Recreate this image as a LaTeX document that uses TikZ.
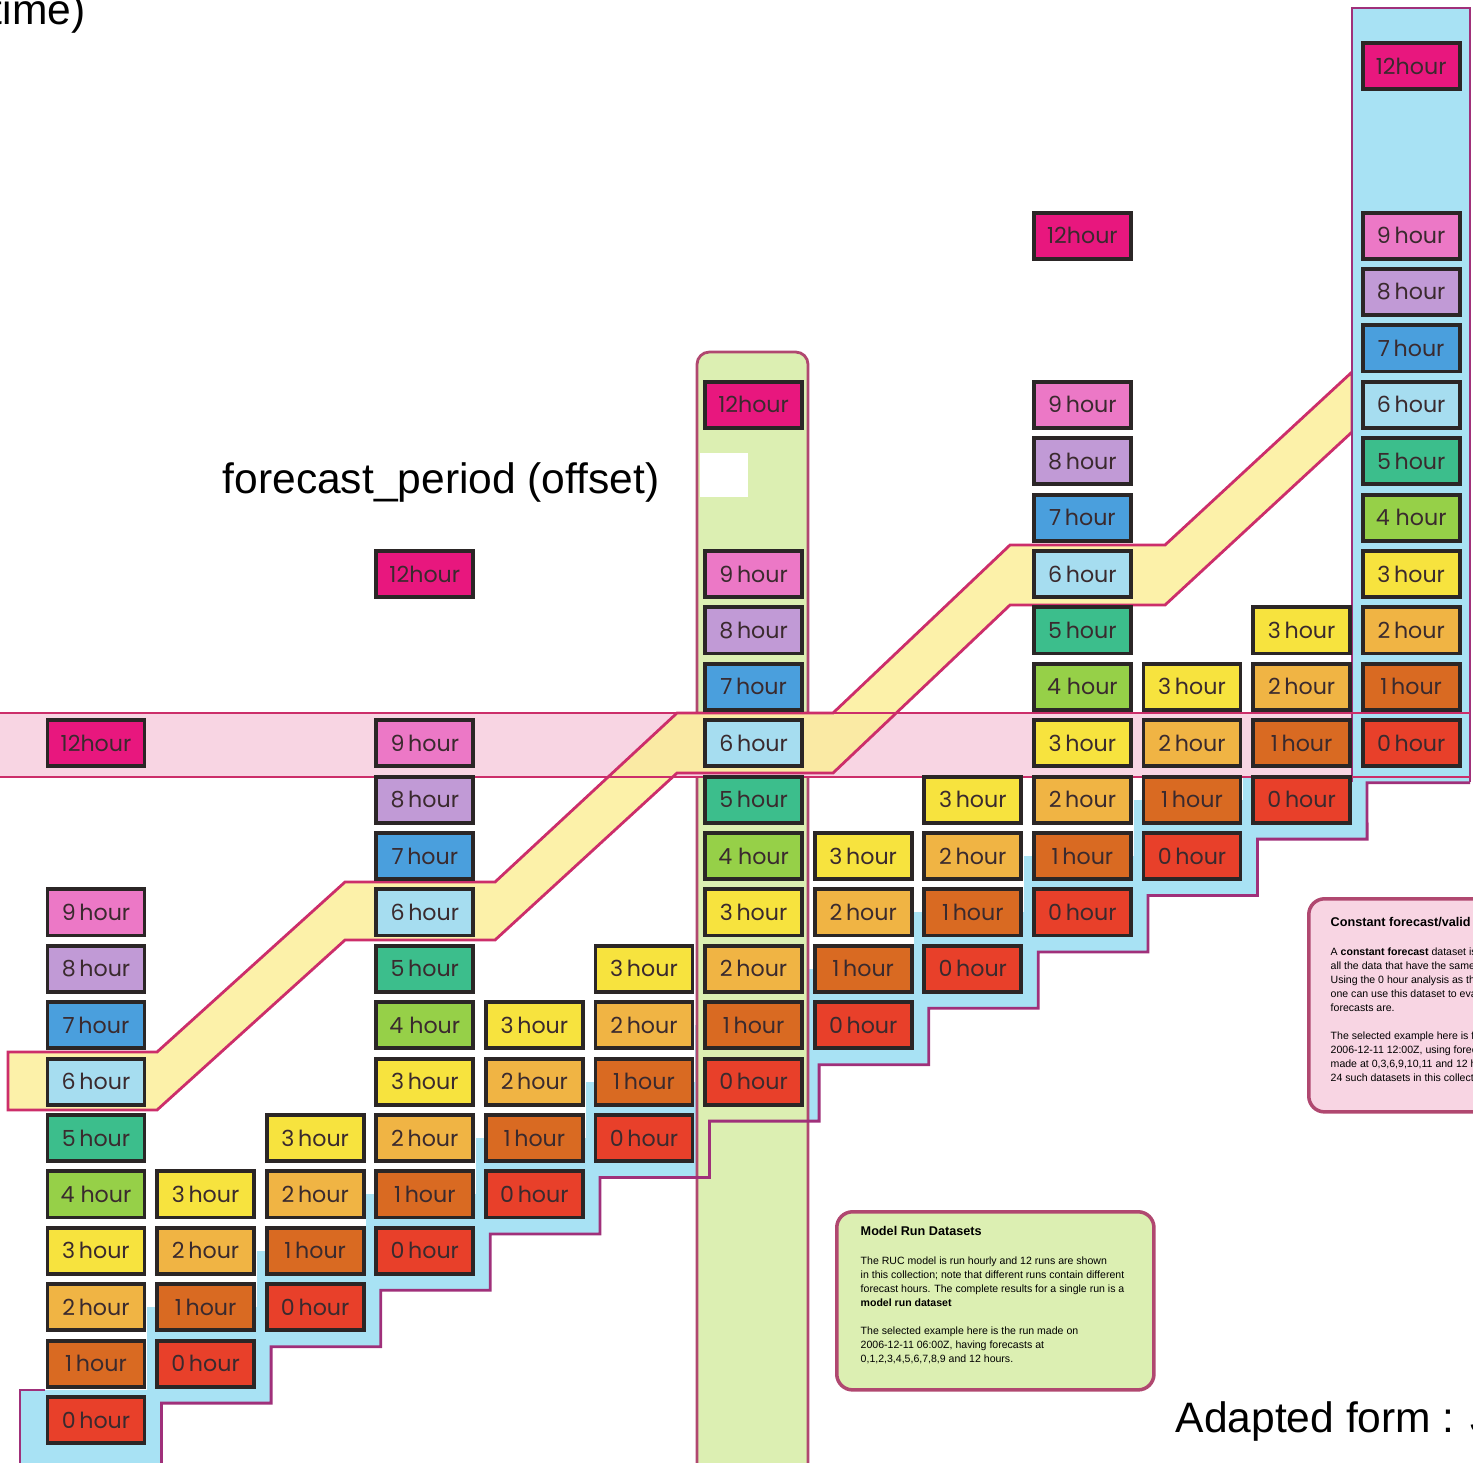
\documentclass[tikz,border=0pt]{standalone}
\usepackage{fontspec}
\setmainfont{Liberation Sans}
\newfontfamily\hourfont{Poppins}

\definecolor{h0}{HTML}{E8402A}
\definecolor{h1}{HTML}{D96A22}
\definecolor{h2}{HTML}{F0B444}
\definecolor{h3}{HTML}{F7E33E}
\definecolor{h4}{HTML}{96D048}
\definecolor{h5}{HTML}{3CBE8C}
\definecolor{h6}{HTML}{A6DDF0}
\definecolor{h7}{HTML}{4A9FDD}
\definecolor{h8}{HTML}{C19AD6}
\definecolor{h9}{HTML}{EC78C6}
\definecolor{h12}{HTML}{E8177E}
\definecolor{boxline}{HTML}{2B2626}
\definecolor{hourtext}{HTML}{3A2A2E}
\definecolor{runblue}{HTML}{A8E2F4}
\definecolor{rungreen}{HTML}{DCEFB2}
\definecolor{validpink}{HTML}{F8D5E3}
\definecolor{offsetyellow}{HTML}{FBEE9A}
\definecolor{bandline}{HTML}{CC2E6A}
\definecolor{runline}{HTML}{A0307A}
\definecolor{infoline}{HTML}{B04870}

\tikzset{
    hourbox/.style={draw=boxline, line width=1.1pt, minimum width=0.97cm,
        minimum height=0.46cm, inner sep=0pt, text=hourtext,
        font=\hourfont\fontsize{6.3}{7}\selectfont},
    band/.style={draw=bandline, line width=0.8pt},
    infoframe/.style={draw=infoline, line width=1pt, rounded corners=4.5pt,
        minimum width=3.17cm, anchor=north west},
    infotext/.style={inner sep=0pt, align=left, anchor=north west,
        font=\fontsize{3}{4}\selectfont},
    bigtext/.style={font=\fontsize{12.1}{14}\selectfont, inner sep=0pt}
}

\begin{document}
\begin{tikzpicture}[x=0.01cm, y=-0.01cm]
    \useasboundingbox (0,0) rectangle (1473,1462);
    % Model runs: blue staircase behind the 0 hour boxes
    \fill[runblue] (20,1390) rectangle (161.5,1480);
    \foreach \c in {1,...,11}{
        \pgfmathsetmacro{\xc}{96+109.6*\c}
        \pgfmathsetmacro{\yc}{1420-56.4*\c}
        \fill[runblue] (\xc-58.5,\yc-56.4) rectangle (\xc+65.5,\yc+39.5);
    }
    % Model run dataset (column)
    \filldraw[band, draw=infoline, fill=rungreen, rounded corners=3.5pt]
        (697,1480) -- (697,352) -- (808,352) -- (808,1480);
    % Constant valid time (row)
    \fill[validpink] (-5,713) rectangle (1470,777);
    % Constant offset (6 hour)
    \filldraw[band, fill=offsetyellow, fill opacity=0.85]
        (8,1052) -- (157,1052) -- (345,882) -- (495,882) -- (677,713) -- (833,713)
        -- (1010,545) -- (1165,545) -- (1352,372) -- (1352,432) -- (1165,605)
        -- (1010,605) -- (833,773) -- (677,773) -- (495,940) -- (345,940)
        -- (157,1110) -- (8,1110) -- cycle;
    % Last run column
    \fill[runblue] (1352,8) rectangle (1470,782);
    \draw[band, draw=runline] (1352,782) -- (1352,8) -- (1470,8) -- (1470,782);
    \draw[band] (-5,713) -- (1470,713) (-5,777) -- (1470,777);
    % Edge of the staircase
    \draw[band, draw=runline] (20,1480) -- (20,1390) -- (45,1390);
    \draw[band, draw=runline] (161.5,1480)
        \foreach \c in {1,...,11}{ -- ({161.5+109.6*(\c-1)},{1459.5-56.4*\c}) -- ({161.5+109.6*\c},{1459.5-56.4*\c}) }
        -- (1367,782.7) -- (1470,782.7);
    \fill[white] (700,453) rectangle (748,497);

    % Forecast hour boxes, one column per run
    \foreach \c in {0,...,12}{
        \pgfmathtruncatemacro{\nmax}{mod(\c,3)==0 ? 9 : 3}
        \foreach \h in {0,...,\nmax}{
            \node[hourbox, fill=h\h] (run\c-h\h) at ({96+109.6*\c},{1420-56.4*(\c+\h)})
                {\ifnum\h=4 \h\ hour\else\h\,hour\fi};
        }
    }
    \foreach \c in {0,3,...,12}{
        \node[hourbox, fill=h12] (run\c-h12) at ({96+109.6*\c},{1420-56.4*(\c+12)}) {12hour};
    }

    \node[bigtext, anchor=base east] (timelabel) at (86,24) {time)};
    \node[bigtext, anchor=base west] (offsetlabel) at (222,493) {forecast\_period (offset)};
    \node[bigtext, anchor=base west] (credit) at (1175,1432) {Adapted form : J};

    % Notes
    \node[infoframe, fill=rungreen, minimum height=1.78cm] (runinfo) at (835,1210) {};
    \node[infotext] (runtext) at (860,1226)
        {{\bfseries\fontsize{3.6}{4}\selectfont Model Run Datasets}\\[4pt]
        The RUC model is run hourly and 12 runs are shown\\
        in this collection; note that different runs contain different\\
        forecast hours. The complete results for a single run is a\\
        \textbf{model run dataset}\\[4pt]
        The selected example here is the run made on\\
        2006-12-11 06:00Z, having forecasts at\\
        0,1,2,3,4,5,6,7,8,9 and 12 hours.};
    \node[infoframe, fill=validpink, minimum height=2.13cm] (validinfo) at (1307,897) {};
    \node[infotext] (validtext) at (1330,917)
        {{\bfseries\fontsize{3.6}{4}\selectfont Constant forecast/valid time dataset}\\[4pt]
        A \textbf{constant forecast} dataset is created from\\
        all the data that have the same forecast time.\\
        Using the 0 hour analysis as the best estimate,\\
        one can use this dataset to evaluate how accurate\\
        forecasts are.\\[4pt]
        The selected example here is for\\
        2006-12-11 12:00Z, using forecasts\\
        made at 0,3,6,9,10,11 and 12 hours. There are\\
        24 such datasets in this collection.};
\end{tikzpicture}
\end{document}
